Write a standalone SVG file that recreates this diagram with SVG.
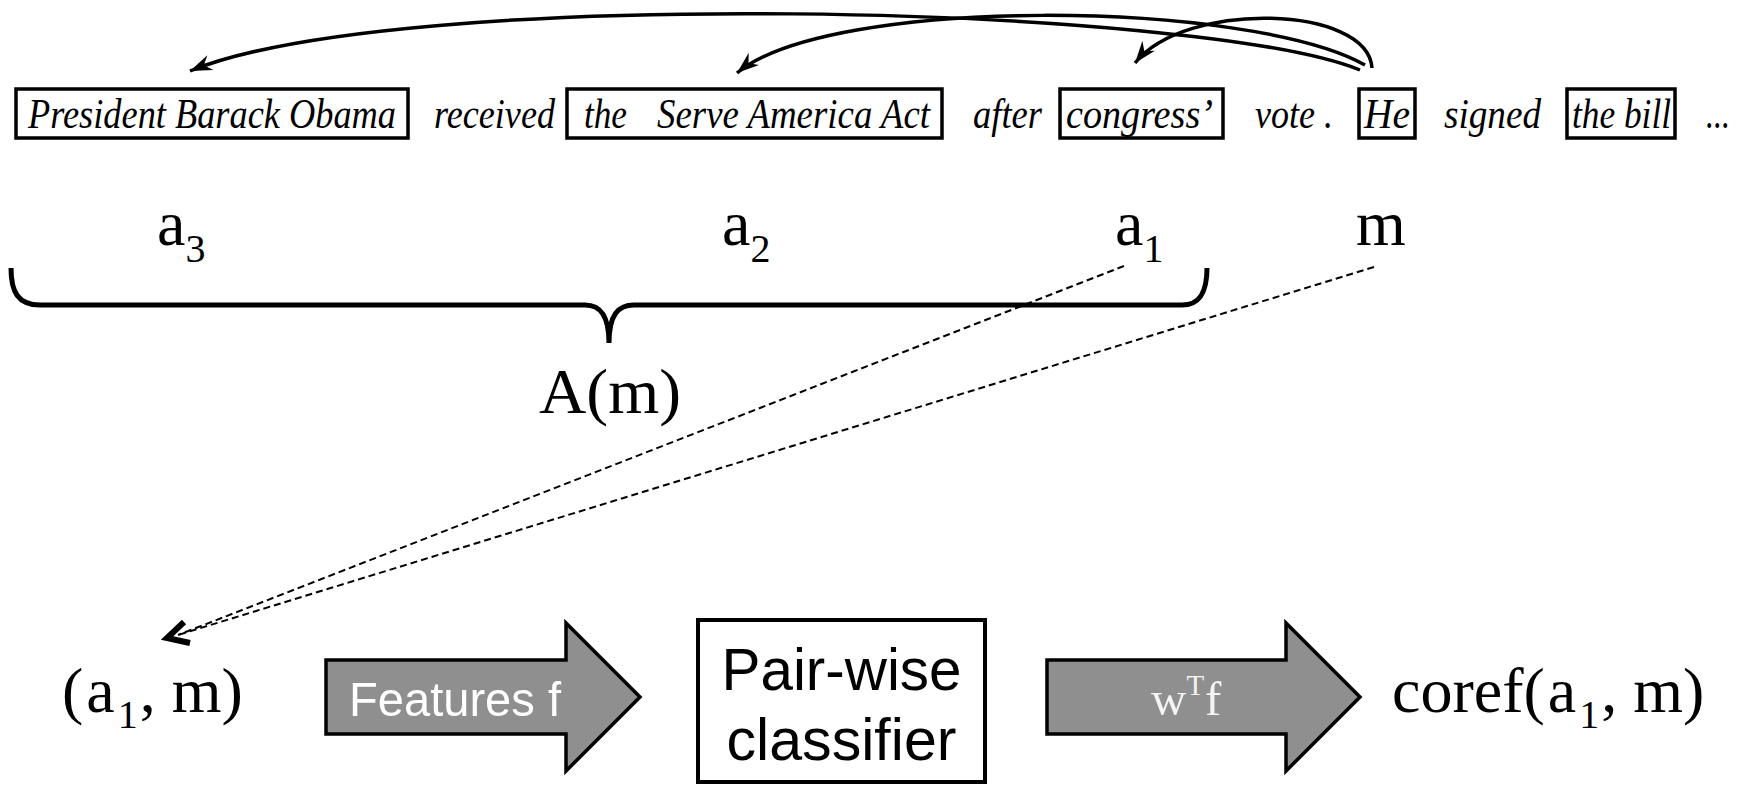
<svg xmlns="http://www.w3.org/2000/svg" width="1746" height="785" viewBox="0 0 1746 785">
  <defs>
    <style>
      .sent{font-family:"Liberation Serif","Times New Roman",serif;font-style:italic;font-size:37px;fill:#000}
      .mention{fill:none;stroke:#000;stroke-width:3.5}
      .math{font-family:"Liberation Serif","Times New Roman",serif;font-size:64px;fill:#000}
      .sub{font-size:40px}
      .arc{fill:none;stroke:#000;stroke-width:3.5}
      .dash{fill:none;stroke:#000;stroke-width:2;stroke-dasharray:7 4}
      .brace{fill:none;stroke:#000;stroke-width:5;stroke-linejoin:round;stroke-linecap:butt}
      .block{fill:#8f8f8f;stroke:#000;stroke-width:3.5;stroke-linejoin:miter}
      .sans{font-family:"Liberation Sans",Arial,sans-serif}
    </style>
    <marker id="head" markerUnits="userSpaceOnUse" markerWidth="26" markerHeight="20" viewBox="-24 -10 26 20" refX="0" refY="0" orient="auto">
      <path d="M0,0 L-22,-8 L-15,0 L-22,8 Z" fill="#000"/>
    </marker>
  </defs>
  <rect width="1746" height="785" fill="#fff"/>

  <!-- sentence: mentions boxed, other words plain; words are stretched
       vertically about the baseline y=128 to get the tall narrow face -->
  <g id="mention-obama">
    <rect class="mention" x="16" y="89" width="392" height="49"/>
    <text class="sent" transform="matrix(1,0,0,1.13,0,-16.64)" x="28" y="128" textLength="368" lengthAdjust="spacingAndGlyphs">President Barack Obama</text>
  </g>
  <g id="word-received">
    <text class="sent" transform="matrix(1,0,0,1.13,0,-16.64)" x="434" y="128" textLength="121" lengthAdjust="spacingAndGlyphs">received</text>
  </g>
  <g id="mention-act">
    <rect class="mention" x="567" y="89" width="375" height="49"/>
    <text class="sent" transform="matrix(1,0,0,1.13,0,-16.64)" x="584" y="128" textLength="43" lengthAdjust="spacingAndGlyphs">the</text>
    <text class="sent" transform="matrix(1,0,0,1.13,0,-16.64)" x="657" y="128" textLength="273" lengthAdjust="spacingAndGlyphs">Serve America Act</text>
  </g>
  <g id="word-after">
    <text class="sent" transform="matrix(1,0,0,1.13,0,-16.64)" x="973" y="128" textLength="69" lengthAdjust="spacingAndGlyphs">after</text>
  </g>
  <g id="mention-congress">
    <rect class="mention" x="1060" y="89" width="163" height="49"/>
    <text class="sent" transform="matrix(1,0,0,1.13,0,-16.64)" x="1066" y="128" textLength="147" lengthAdjust="spacingAndGlyphs">congress’</text>
  </g>
  <g id="word-vote">
    <text class="sent" transform="matrix(1,0,0,1.13,0,-16.64)" x="1255" y="128" textLength="78" lengthAdjust="spacingAndGlyphs">vote .</text>
  </g>
  <g id="mention-he">
    <rect class="mention" x="1359" y="89" width="56" height="49"/>
    <text class="sent" transform="matrix(1,0,0,1.13,0,-16.64)" x="1364" y="128" textLength="46" lengthAdjust="spacingAndGlyphs">He</text>
  </g>
  <g id="word-signed">
    <text class="sent" transform="matrix(1,0,0,1.13,0,-16.64)" x="1444" y="128" textLength="97" lengthAdjust="spacingAndGlyphs">signed</text>
  </g>
  <g id="mention-bill">
    <rect class="mention" x="1567" y="89" width="108" height="49"/>
    <text class="sent" transform="matrix(1,0,0,1.13,0,-16.64)" x="1572" y="128" textLength="99" lengthAdjust="spacingAndGlyphs">the bill</text>
  </g>
  <g id="word-ellipsis">
    <text class="sent" transform="matrix(1,0,0,1.13,0,-16.64)" x="1706" y="128" textLength="24" lengthAdjust="spacingAndGlyphs">...</text>
  </g>

  <!-- antecedent / mention labels -->
  <g id="label-a3"><text class="math" x="157" y="245">a<tspan class="sub" dy="17">3</tspan></text></g>
  <g id="label-a2"><text class="math" x="722" y="245">a<tspan class="sub" dy="17">2</tspan></text></g>
  <g id="label-a1"><text class="math" x="1115" y="245">a<tspan class="sub" dy="17">1</tspan></text></g>
  <g id="label-m"><text class="math" x="1356" y="245">m</text></g>

  <!-- curly brace grouping the antecedents -->
  <g id="brace-antecedents">
    <path class="brace" d="M11,268 C11,292 18,305 40,305 L585,305 C600,305 609,315 609,343 M609,343 C609,315 618,305 634,305 L1182,305 C1200,305 1207,292 1207,268"/>
  </g>
  <g id="label-Am"><text class="math" x="539" y="413" textLength="142" lengthAdjust="spacingAndGlyphs">A(m)</text></g>

  <!-- pipeline -->
  <g id="pair">
    <text class="math" x="62" y="712">(<tspan dx="3">a</tspan><tspan class="sub" dx="3" dy="16">1</tspan><tspan dx="2" dy="-16">, m)</tspan></text>
  </g>
  <g id="arrow-features">
    <path class="block" d="M326,660 L566,660 L566,623 L640,697 L566,771 L566,734 L326,734 Z"/>
    <text class="sans" x="349" y="716" font-size="49" fill="#fff" textLength="212" lengthAdjust="spacingAndGlyphs">Features f</text>
  </g>
  <g id="classifier">
    <rect x="698" y="620" width="287" height="162" fill="#fff" stroke="#000" stroke-width="4"/>
    <text class="sans" x="841.5" y="690" font-size="59" text-anchor="middle" textLength="240" lengthAdjust="spacingAndGlyphs">Pair-wise</text>
    <text class="sans" x="841.5" y="760" font-size="59" text-anchor="middle" textLength="230" lengthAdjust="spacingAndGlyphs">classifier</text>
  </g>
  <g id="arrow-score">
    <path class="block" d="M1047,660 L1286,660 L1286,623 L1360,697 L1286,771 L1286,734 L1047,734 Z"/>
    <text x="1151" y="715" font-family="'Liberation Serif','Times New Roman',serif" font-size="49" fill="#f4f4f4">w<tspan font-size="29" dy="-20">T</tspan><tspan dy="20" dx="1">f</tspan></text>
  </g>
  <g id="output">
    <text class="math" x="1392" y="712">coref(<tspan dx="3">a</tspan><tspan class="sub" dx="3" dy="16">1</tspan><tspan dx="2" dy="-16">, m)</tspan></text>
  </g>

  <!-- connectors -->
  <g id="connectors">
    <path class="arc" d="M1360,70 C1200,5 400,-15 190,71" marker-end="url(#head)"/>
    <path class="arc" d="M1365,65 C1250,0 830,-5 737,73" marker-end="url(#head)"/>
    <path class="arc" d="M1372,68 C1368,5 1185,0 1135,63" marker-end="url(#head)"/>
    <line class="dash" x1="1124" y1="266" x2="178" y2="635"/>
    <line class="dash" x1="1374" y1="267" x2="178" y2="635"/>
    <path d="M184,622 L167,638 L190,643" fill="none" stroke="#000" stroke-width="6"/>
  </g>
</svg>
